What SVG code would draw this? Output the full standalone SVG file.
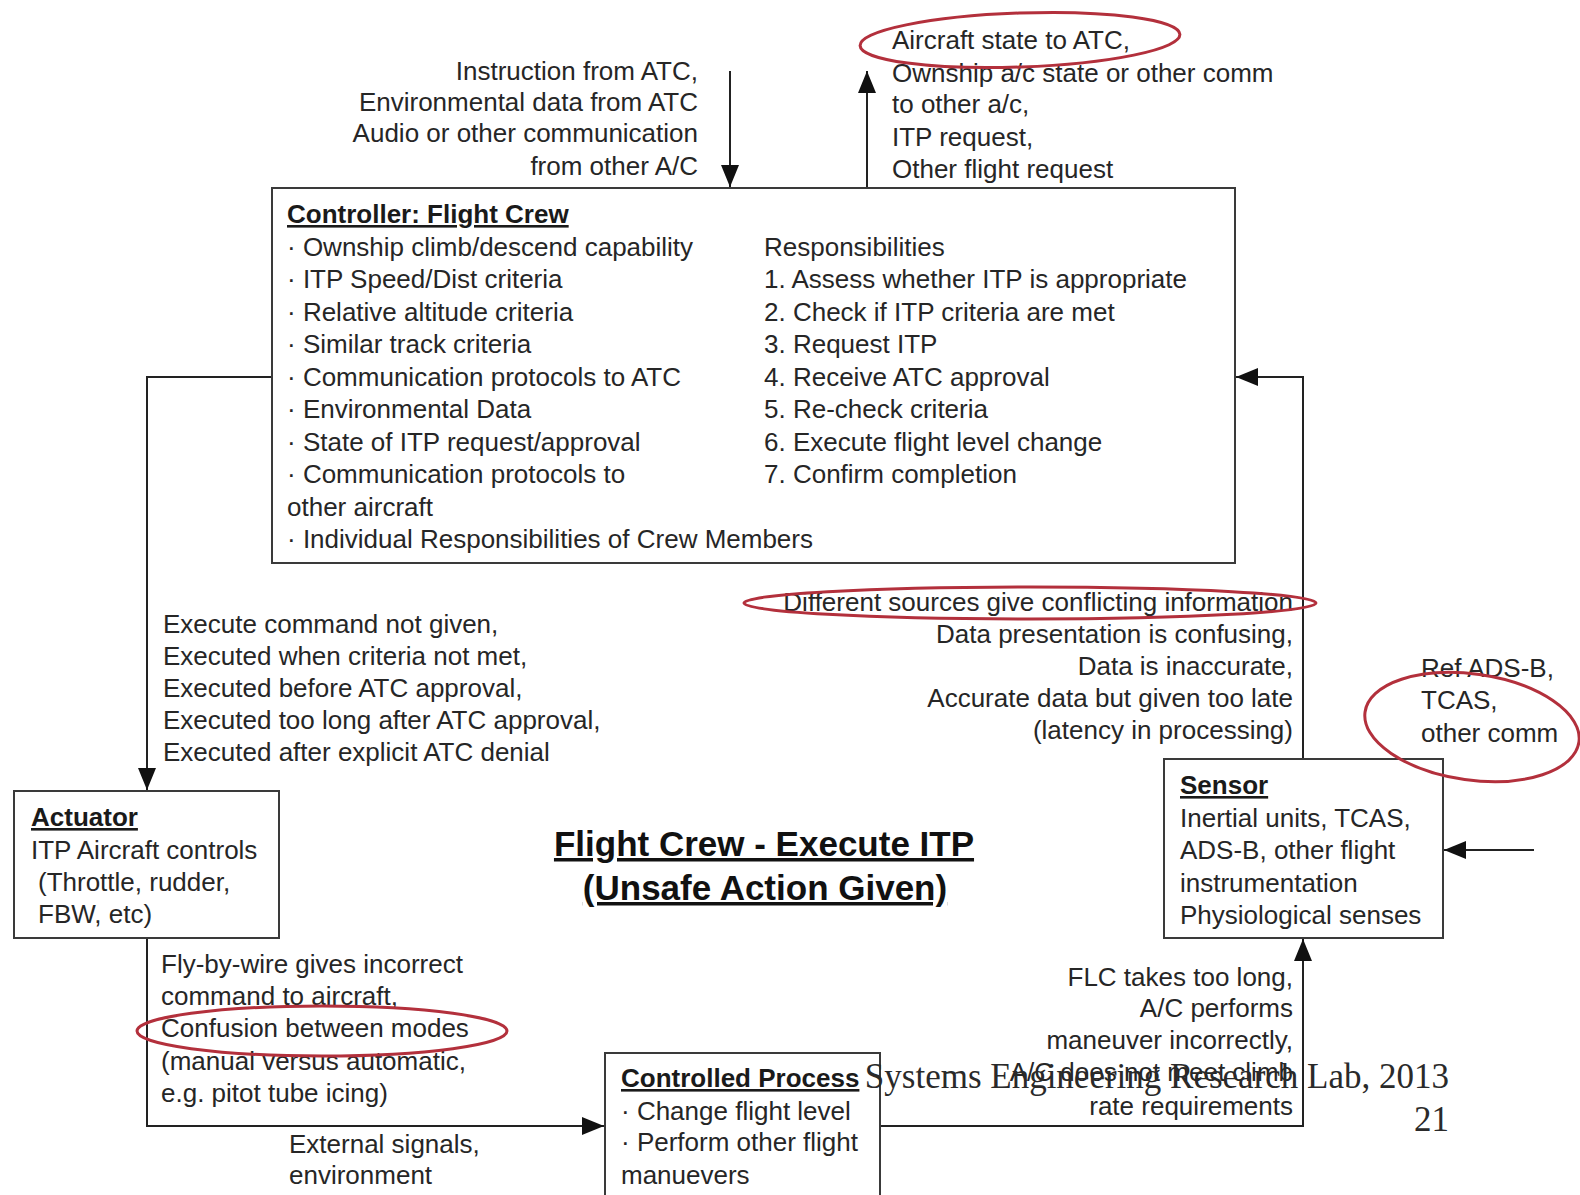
<svg xmlns="http://www.w3.org/2000/svg" width="1580" height="1195" viewBox="0 0 1580 1195">
<style>
  .t { font-family: "Liberation Sans", Arial, Helvetica, sans-serif; font-size: 26px; fill: #262626; }
  .b { font-weight: bold; text-decoration: underline; fill: #1a1a1a; }
  .r { text-anchor: end; }
  .title { font-family: "Liberation Sans", Arial, Helvetica, sans-serif; font-size: 35px; font-weight: bold; text-decoration: underline; fill: #111; text-anchor: middle; }
  .foot { font-family: "Liberation Serif", "Times New Roman", serif; font-size: 35px; fill: #2a2a2a; text-anchor: end; }
  .box { fill: #fff; stroke: #3a3a3a; stroke-width: 2; }
  .line { fill: none; stroke: #222; stroke-width: 2; }
  .hl { fill: none; stroke: #b3303c; stroke-width: 3; }
</style>
<defs>
  <marker id="arr" markerUnits="userSpaceOnUse" markerWidth="22" markerHeight="18" viewBox="0 0 22 18" refX="22" refY="9" orient="auto">
    <path d="M0,0 L22,9 L0,18 z" fill="#111"/>
  </marker>
</defs>
<rect width="1580" height="1195" fill="#fff"/>

<g id="connectors">
  <path class="line" d="M730,71 V187" marker-end="url(#arr)"/>
  <path class="line" d="M867,188 V71" marker-end="url(#arr)"/>
  <path class="line" d="M272,377 H147 V790" marker-end="url(#arr)"/>
  <path class="line" d="M1303,759 V377 H1236" marker-end="url(#arr)"/>
  <path class="line" d="M147,938 V1126 H604" marker-end="url(#arr)"/>
  <path class="line" d="M880,1126 H1303 V939" marker-end="url(#arr)"/>
  <path class="line" d="M1534,850 H1444" marker-end="url(#arr)"/>
</g>

<g id="controller">
  <rect class="box" x="272" y="188" width="963" height="375"/>
  <text class="t b" x="287" y="223">Controller: Flight Crew</text>
  <text class="t" x="287" y="255.5">· Ownship climb/descend capability</text>
  <text class="t" x="287" y="288">· ITP Speed/Dist criteria</text>
  <text class="t" x="287" y="320.5">· Relative altitude criteria</text>
  <text class="t" x="287" y="353">· Similar track criteria</text>
  <text class="t" x="287" y="385.5">· Communication protocols to ATC</text>
  <text class="t" x="287" y="418">· Environmental Data</text>
  <text class="t" x="287" y="450.5">· State of ITP request/approval</text>
  <text class="t" x="287" y="483">· Communication protocols to</text>
  <text class="t" x="287" y="515.5">other aircraft</text>
  <text class="t" x="287" y="548">· Individual Responsibilities of Crew Members</text>
  <text class="t" x="764" y="255.5">Responsibilities</text>
  <text class="t" x="764" y="288">1. Assess whether ITP is appropriate</text>
  <text class="t" x="764" y="320.5">2. Check if ITP criteria are met</text>
  <text class="t" x="764" y="353">3. Request ITP</text>
  <text class="t" x="764" y="385.5">4. Receive ATC approval</text>
  <text class="t" x="764" y="418">5. Re-check criteria</text>
  <text class="t" x="764" y="450.5">6. Execute flight level change</text>
  <text class="t" x="764" y="483">7. Confirm completion</text>
</g>

<g id="actuator">
  <rect class="box" x="14" y="791" width="265" height="147"/>
  <text class="t b" x="31" y="826">Actuator</text>
  <text class="t" x="31" y="859">ITP Aircraft controls</text>
  <text class="t" x="38" y="891">(Throttle, rudder,</text>
  <text class="t" x="38" y="923">FBW, etc)</text>
</g>

<g id="sensor">
  <rect class="box" x="1164" y="759" width="279" height="179"/>
  <text class="t b" x="1180" y="794">Sensor</text>
  <text class="t" x="1180" y="827">Inertial units, TCAS,</text>
  <text class="t" x="1180" y="859">ADS-B, other flight</text>
  <text class="t" x="1180" y="892">instrumentation</text>
  <text class="t" x="1180" y="924">Physiological senses</text>
</g>

<g id="controlled-process">
  <rect class="box" x="605" y="1053" width="275" height="160"/>
  <text class="t b" x="621" y="1087">Controlled Process</text>
  <text class="t" x="621" y="1120">· Change flight level</text>
  <text class="t" x="621" y="1151">· Perform other flight</text>
  <text class="t" x="621" y="1184">manuevers</text>
</g>

<g id="labels">
  <text class="t r" x="698" y="80">Instruction from ATC,</text>
  <text class="t r" x="698" y="111">Environmental data from ATC</text>
  <text class="t r" x="698" y="142">Audio or other communication</text>
  <text class="t r" x="698" y="175">from other A/C</text>

  <text class="t" x="892" y="49">Aircraft state to ATC,</text>
  <text class="t" x="892" y="82">Ownship a/c state or other comm</text>
  <text class="t" x="892" y="113">to other a/c,</text>
  <text class="t" x="892" y="146">ITP request,</text>
  <text class="t" x="892" y="178">Other flight request</text>

  <text class="t" x="163" y="633">Execute command not given,</text>
  <text class="t" x="163" y="665">Executed when criteria not met,</text>
  <text class="t" x="163" y="697">Executed before ATC approval,</text>
  <text class="t" x="163" y="729">Executed too long after ATC approval,</text>
  <text class="t" x="163" y="761">Executed after explicit ATC denial</text>

  <text class="t r" x="1293" y="611">Different sources give conflicting information</text>
  <text class="t r" x="1293" y="643">Data presentation is confusing,</text>
  <text class="t r" x="1293" y="675">Data is inaccurate,</text>
  <text class="t r" x="1293" y="707">Accurate data but given too late</text>
  <text class="t r" x="1293" y="739">(latency in processing)</text>

  <text class="t" x="1421" y="677">Ref ADS-B,</text>
  <text class="t" x="1421" y="709">TCAS,</text>
  <text class="t" x="1421" y="742">other comm</text>

  <text class="t" x="161" y="973">Fly-by-wire gives incorrect</text>
  <text class="t" x="161" y="1005">command to aircraft,</text>
  <text class="t" x="161" y="1037">Confusion between modes</text>
  <text class="t" x="161" y="1070">(manual versus automatic,</text>
  <text class="t" x="161" y="1102">e.g. pitot tube icing)</text>

  <text class="t" x="289" y="1153">External signals,</text>
  <text class="t" x="289" y="1184">environment</text>

  <text class="t r" x="1293" y="986">FLC takes too long,</text>
  <text class="t r" x="1293" y="1017">A/C performs</text>
  <text class="t r" x="1293" y="1049">maneuver incorrectly,</text>
  <text class="t r" x="1293" y="1081">A/C does not meet climb</text>
  <text class="t r" x="1293" y="1115">rate requirements</text>

  <text class="title" x="764" y="856">Flight Crew - Execute ITP</text>
  <text class="title" x="765" y="900">(Unsafe Action Given)</text>

  <text class="foot" x="1449" y="1088">Systems Engineering Research Lab, 2013</text>
  <text class="foot" x="1449" y="1131">21</text>
</g>

<g id="highlights">
  <ellipse class="hl" cx="1020" cy="40" rx="160" ry="27" transform="rotate(-2 1020 40)"/>
  <ellipse class="hl" cx="1030" cy="603" rx="286" ry="16"/>
  <ellipse class="hl" cx="1472" cy="727" rx="108" ry="53" transform="rotate(8 1472 727)"/>
  <ellipse class="hl" cx="322" cy="1031" rx="185" ry="25"/>
</g>
</svg>
